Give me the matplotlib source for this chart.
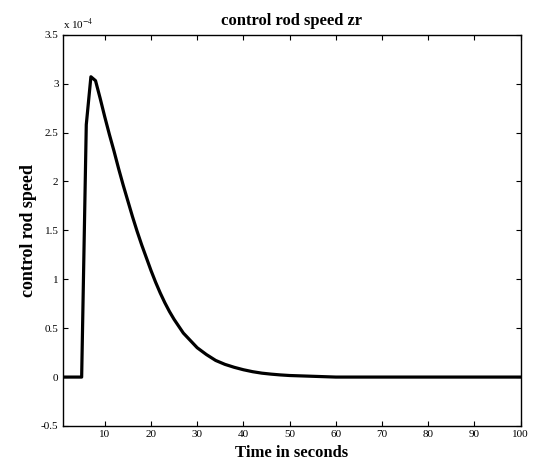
import matplotlib
matplotlib.use("Agg")
import matplotlib.pyplot as plt

# time (s) and control rod speed (x 1e-4)
time_s = [1, 2, 3, 4, 5, 6, 7, 8, 9, 10, 11, 12, 13, 14, 15, 16, 17, 18, 19, 20,
          21, 22, 23, 24, 25, 26, 27, 28, 29, 30, 32, 34, 36, 38, 40, 42, 44, 46,
          48, 50, 55, 60, 70, 80, 90, 100]
speed_e4 = [0, 0, 0, 0, 0, 2.58, 3.07, 3.03, 2.85, 2.66, 2.48, 2.31, 2.13, 1.96,
            1.80, 1.64, 1.49, 1.35, 1.22, 1.09, 0.97, 0.86, 0.76, 0.67, 0.59,
            0.52, 0.45, 0.40, 0.35, 0.30, 0.23, 0.17, 0.13, 0.10, 0.075, 0.055,
            0.04, 0.03, 0.022, 0.016, 0.008, 0.0, 0.0, 0.0, 0.0, 0.0]

xticks = [10, 20, 30, 40, 50, 60, 70, 80, 90, 100]
yticks = [-0.5, 0, 0.5, 1, 1.5, 2, 2.5, 3, 3.5]
ytick_labels = ["-0.5", "0", "0.5", "1", "1.5", "2", "2.5", "3", "3.5"]

plt.rcParams['font.family'] = ['Liberation Serif', 'DejaVu Serif']
plt.rcParams['mathtext.fontset'] = 'stix'

fig = plt.figure(figsize=(5.36, 4.65), dpi=100)
ax = fig.add_axes([0.117, 0.0839, 0.8544, 0.8415])

ax.plot(time_s, speed_e4, color='black', linewidth=2.3)

ax.set_xlim(0.9, 100)
ax.set_ylim(-0.5, 3.5)
ax.set_xticks(xticks)
ax.set_yticks(yticks)
ax.set_yticklabels(ytick_labels)
ax.tick_params(direction='in', length=3.5, width=0.8, labelsize=8,
               top=True, right=True, pad=3)
for sp in ax.spines.values():
    sp.set_linewidth(1.0)

ax.text(0.0, 1.008, r"x 10$^{-4}$", transform=ax.transAxes, fontsize=8,
        ha='left', va='bottom')

ax.set_title("control rod speed zr", fontsize=12, fontweight='bold', pad=7)
ax.set_xlabel("Time in seconds", fontsize=12, fontweight='bold', labelpad=4)
ax.set_ylabel("control rod speed", fontsize=13, fontweight='bold', labelpad=3)

fig.savefig("out.png", dpi=100)
